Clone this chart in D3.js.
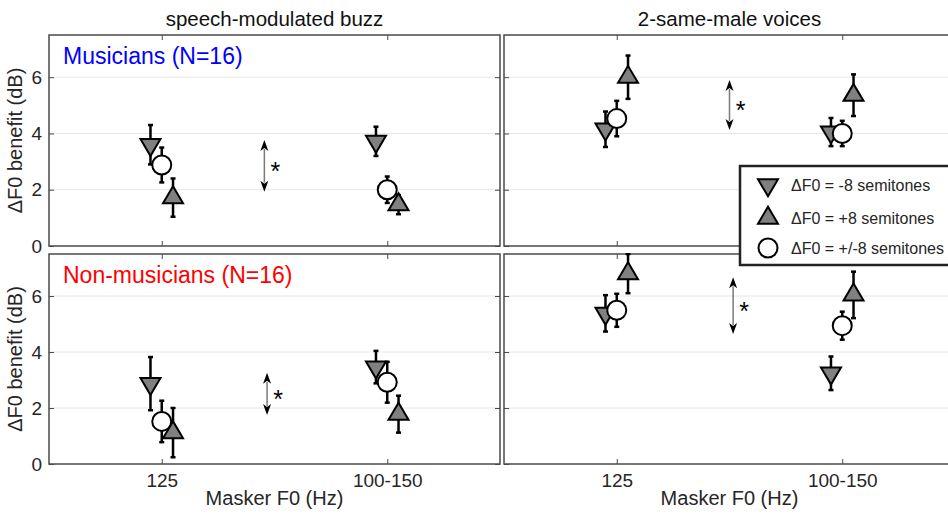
<!DOCTYPE html>
<html>
<head>
<meta charset="utf-8">
<script src="https://cdn.jsdelivr.net/npm/d3@7"></script>
<style>
  html, body { margin: 0; padding: 0; background: #fff; }
  svg { display: block; font-family: "Liberation Sans", Arial, Helvetica, sans-serif; }
</style>
</head>
<body>
<svg id="chart" width="948" height="517"></svg>
<script>
// ---------------- data ----------------
const conditions = ["speech-modulated buzz", "2-same-male voices"];
const groups = ["Musicians (N=16)", "Non-musicians (N=16)"];
const groupColors = ["#0000ff", "#ff0000"];
const categories = ["125", "100-150"];
const yTicks = [0, 2, 4, 6];
const seriesNames = ["\u0394F0 = -8 semitones", "\u0394F0 = +8 semitones", "\u0394F0 = +/-8 semitones"];

// panel order: [Musicians/buzz, Musicians/voices, Non-musicians/buzz, Non-musicians/voices]
// values per panel: [125, 100-150]
const minus8Mean = [[3.60, 3.72], [4.15, 4.05], [2.87, 3.46], [5.38, 3.24]];
const minus8Err  = [[0.70, 0.52], [0.63, 0.50], [0.95, 0.58], [0.65, 0.60]];
const plus8Mean  = [[1.72, 1.47], [6.00, 5.36], [1.12, 1.78], [6.80, 6.04]];
const plus8Err   = [[0.68, 0.34], [0.77, 0.74], [0.88, 0.66], [0.70, 0.83]];
const bothMean   = [[2.88, 2.00], [4.53, 4.00], [1.52, 2.92], [5.49, 4.94]];
const bothErr    = [[0.62, 0.47], [0.63, 0.45], [0.74, 0.73], [0.59, 0.50]];

// significance arrows: x position (category units), y range
const sigX  = [1.455, 1.50, 1.467, 1.516];
const sigLo = [1.93, 4.12, 1.75, 4.64];
const sigHi = [3.77, 5.90, 3.26, 6.67];

// ---------------- layout ----------------
const svg = d3.select("#chart");
const colX = [[49, 500], [504, 955]];
const rowY = [[35, 246], [254, 464]];
const xOffsets = [-0.05, 0.05, 0];   // -8, +8, +/-8
const drawOrder = [0, 2, 1];          // down, circle, up
const frameColor = "#4a4a4a";
const textColor = "#262626";

const series = [
  { mean: minus8Mean, err: minus8Err, shape: "down", fill: "#808080" },
  { mean: plus8Mean,  err: plus8Err,  shape: "up",   fill: "#808080" },
  { mean: bothMean,   err: bothErr,   shape: "circle", fill: "#ffffff" }
];

const triW = 20, triH = 17, circR = 9.5;
function markerPath(shape) {
  if (shape === "down") {
    return `M${-triW/2},${-triH/3}L${triW/2},${-triH/3}L0,${2*triH/3}Z`;
  } else {
    return `M${-triW/2},${triH/3}L${triW/2},${triH/3}L0,${-2*triH/3}Z`;
  }
}
function drawMarker(g, shape, fill, cx, cy) {
  if (shape === "circle") {
    g.append("circle").attr("cx", cx).attr("cy", cy).attr("r", circR)
      .attr("fill", fill).attr("stroke", "#000").attr("stroke-width", 2);
  } else {
    g.append("path").attr("d", markerPath(shape))
      .attr("transform", `translate(${cx},${cy})`)
      .attr("fill", fill).attr("stroke", "#000").attr("stroke-width", 2)
      .attr("stroke-linejoin", "miter");
  }
}

for (let r = 0; r < 2; r++) {
  for (let c = 0; c < 2; c++) {
    const p = r * 2 + c;
    const [x0, x1] = colX[c];
    const [y0, y1] = rowY[r];
    const x = d3.scaleLinear().domain([0.5, 2.5]).range([x0, x1]);
    const y = d3.scaleLinear().domain([0, 7.5]).range([y1, y0]);

    const clipId = `clip${p}`;
    svg.append("clipPath").attr("id", clipId)
      .append("rect").attr("x", x0).attr("y", y0 - 1).attr("width", x1 - x0).attr("height", y1 - y0 + 2);

    const g = svg.append("g");

    // gridlines
    g.selectAll(".grid").data(yTicks.filter(t => t > 0)).join("line")
      .attr("x1", x0).attr("x2", x1)
      .attr("y1", d => y(d)).attr("y2", d => y(d))
      .attr("stroke", "#e6e6e6").attr("stroke-width", 1);

    // axes (ticks inside)
    const yAxis = d3.axisLeft(y).tickValues(yTicks).tickSizeInner(-5).tickSizeOuter(0).tickPadding(7)
      .tickFormat(c === 0 ? d3.format("d") : () => "");
    const ga = g.append("g").attr("transform", `translate(${x0},0)`).call(yAxis);
    const yAxisR = d3.axisRight(y).tickValues(yTicks).tickSizeInner(-5).tickSizeOuter(0).tickFormat(() => "");
    const gar = g.append("g").attr("transform", `translate(${x1},0)`).call(yAxisR);
    const xAxis = d3.axisBottom(x).tickValues([1, 2]).tickSizeInner(-5).tickSizeOuter(0).tickPadding(10)
      .tickFormat(r === 1 ? (d => categories[d - 1]) : () => "");
    const gx = g.append("g").attr("transform", `translate(0,${y1})`).call(xAxis);
    const xAxisT = d3.axisTop(x).tickValues([1, 2]).tickSizeInner(-5).tickSizeOuter(0).tickFormat(() => "");
    const gxt = g.append("g").attr("transform", `translate(0,${y0})`).call(xAxisT);
    [ga, gar, gx, gxt].forEach(a => {
      a.select(".domain").remove();
      a.selectAll(".tick line").attr("stroke", frameColor).attr("stroke-width", 1);
      a.selectAll(".tick text").attr("fill", textColor).attr("font-size", 19)
        .attr("font-family", "'Liberation Sans', Arial, sans-serif");
    });

    // frame
    g.append("rect").attr("x", x0).attr("y", y0).attr("width", x1 - x0).attr("height", y1 - y0)
      .attr("fill", "none").attr("stroke", frameColor).attr("stroke-width", 1.5);

    // group label
    if (c === 0) {
      g.append("text").attr("x", x0 + 14).attr("y", y0 + 29)
        .attr("fill", groupColors[r]).attr("font-size", 23).text(groups[r]);
    }

    const pg = g.append("g").attr("clip-path", `url(#${clipId})`);

    // significance arrow
    const ax = x(sigX[p]), ayHi = y(sigHi[p]), ayLo = y(sigLo[p]);
    const headL = 11, headW = 8;
    pg.append("line").attr("x1", ax).attr("x2", ax).attr("y1", ayHi + headL - 2).attr("y2", ayLo - headL + 2)
      .attr("stroke", "#7a7a7a").attr("stroke-width", 1.5);
    pg.append("path").attr("d", `M${ax},${ayHi}L${ax - headW/2},${ayHi + headL}L${ax},${ayHi + headL - 3}L${ax + headW/2},${ayHi + headL}Z`)
      .attr("fill", "#000");
    pg.append("path").attr("d", `M${ax},${ayLo}L${ax - headW/2},${ayLo - headL}L${ax},${ayLo - headL + 3}L${ax + headW/2},${ayLo - headL}Z`)
      .attr("fill", "#000");
    pg.append("text").attr("x", ax + 11).attr("y", (ayHi + ayLo) / 2 + 14)
      .attr("text-anchor", "middle").attr("font-size", 25).attr("fill", "#000").text("*");

    // series
    drawOrder.forEach(si => {
      const s = series[si];
      categories.forEach((cat, ci) => {
        const cx = x(ci + 1 + xOffsets[si]);
        const m = s.mean[p][ci], e = s.err[p][ci];
        const yt = y(m + e), yb = y(m - e), cy = y(m);
        const cap = 2.5;
        pg.append("line").attr("x1", cx).attr("x2", cx).attr("y1", yt).attr("y2", yb)
          .attr("stroke", "#000").attr("stroke-width", 2.5);
        [yt, yb].forEach(yy => pg.append("line").attr("x1", cx - cap).attr("x2", cx + cap)
          .attr("y1", yy).attr("y2", yy).attr("stroke", "#000").attr("stroke-width", 2.5));
        drawMarker(pg, s.shape, s.fill, cx, cy);
      });
    });

    // titles
    if (r === 0) {
      svg.append("text").attr("x", (x0 + x1) / 2).attr("y", 26).attr("text-anchor", "middle")
        .attr("font-size", 20.5).attr("fill", "#111").text(conditions[c]);
    }
    if (r === 1) {
      svg.append("text").attr("x", (x0 + x1) / 2).attr("y", 505).attr("text-anchor", "middle")
        .attr("font-size", 20).attr("fill", textColor).text("Masker F0 (Hz)");
    }
    if (c === 0) {
      svg.append("text").attr("transform", `translate(22,${(y0 + y1) / 2}) rotate(-90)`)
        .attr("text-anchor", "middle").attr("font-size", 20).attr("fill", textColor)
        .text("\u0394F0 benefit (dB)");
    }
  }
}

// legend
const lg = svg.append("g");
lg.append("rect").attr("x", 740).attr("y", 166).attr("width", 230).attr("height", 99)
  .attr("fill", "#fff").attr("stroke", "#222").attr("stroke-width", 2.5);
const legY = [185, 218, 248];
[0, 1, 2].forEach(i => {
  drawMarker(lg, series[i].shape, series[i].fill, 768, legY[i]);
  lg.append("text").attr("x", 791).attr("y", legY[i] + 6).attr("font-size", 16)
    .attr("fill", textColor).text(seriesNames[i]);
});
</script>
</body>
</html>
